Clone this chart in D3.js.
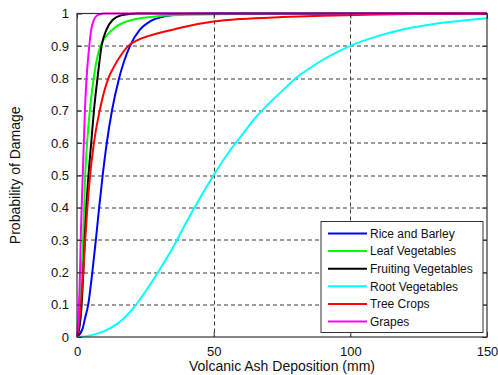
<!DOCTYPE html>
<html>
<head>
<meta charset="utf-8">
<script src="https://cdn.jsdelivr.net/npm/d3@7"></script>
<style>
  html, body { margin: 0; padding: 0; background: #fff; }
  svg { display: block; font-family: "Liberation Sans", Arial, sans-serif; }
</style>
</head>
<body>
<svg id="chart" width="498" height="375"></svg>
<script>
// ---- data ----
const seriesNames = ["Rice and Barley", "Leaf Vegetables", "Fruiting Vegetables", "Root Vegetables", "Tree Crops", "Grapes"];
const seriesColors = ["#0000ff", "#00ff00", "#000000", "#00ffff", "#ff0000", "#ff00ff"];

const riceBarley = [[0,0],[2,0.025],[3,0.06],[4.1,0.1],[5.6,0.2],[6.9,0.3],[8.1,0.4],[9.4,0.5],[10.9,0.6],[12.8,0.7],[15.4,0.8],[19.4,0.9],[23,0.95],[27,0.977],[31.5,0.99],[36,0.996],[42,0.999],[50,1],[150,1]];
const leafVegetables = [[0,0],[0.8,0.05],[1.2,0.1],[1.7,0.2],[2.2,0.3],[2.6,0.4],[3.0,0.5],[3.7,0.6],[4.7,0.7],[6.1,0.8],[8.6,0.9],[13,0.95],[20,0.98],[28,0.99],[40,0.996],[60,0.999],[80,1],[150,1]];
const fruitingVegetables = [[0,0],[1.2,0.05],[1.7,0.1],[2.3,0.2],[2.8,0.3],[3.4,0.4],[4.2,0.5],[5.2,0.6],[6.2,0.7],[7.5,0.8],[9.0,0.9],[10.8,0.95],[13,0.98],[16.5,0.995],[22,1],[150,1]];
const rootVegetables = [[0,0],[5,0.005],[10,0.018],[15,0.042],[20,0.083],[25,0.14],[30,0.205],[35,0.275],[40,0.355],[45,0.43],[50,0.5],[55,0.565],[60,0.62],[65,0.675],[70,0.72],[75,0.76],[80,0.8],[85,0.83],[90,0.857],[95,0.88],[100,0.9],[110,0.93],[120,0.952],[130,0.967],[140,0.977],[150,0.985]];
const treeCrops = [[0,0],[0.8,0.05],[1.4,0.1],[2.3,0.2],[3.0,0.3],[3.8,0.4],[4.8,0.5],[6.2,0.6],[8.3,0.7],[11.5,0.8],[13.5,0.835],[16,0.87],[18.8,0.9],[22,0.917],[26,0.93],[30,0.94],[35,0.95],[40,0.96],[50,0.975],[60,0.983],[75,0.989],[90,0.993],[110,0.997],[130,0.999],[150,1]];
const grapes = [[0,0],[0.7,0.1],[1.1,0.2],[1.35,0.3],[1.7,0.4],[2.1,0.5],[2.5,0.6],[2.9,0.7],[3.5,0.8],[4.5,0.9],[5.2,0.95],[6.2,0.98],[7.5,0.995],[10,1],[150,1]];

const seriesData = [riceBarley, leafVegetables, fruitingVegetables, rootVegetables, treeCrops, grapes];

const xTicks = [0, 50, 100, 150];
const yTicks = [0, 0.1, 0.2, 0.3, 0.4, 0.5, 0.6, 0.7, 0.8, 0.9, 1];
const yTickLabels = ["0", "0.1", "0.2", "0.3", "0.4", "0.5", "0.6", "0.7", "0.8", "0.9", "1"];
const xLabel = "Volcanic Ash Deposition (mm)";
const yLabel = "Probability of Damage";

// ---- layout ----
const margin = { left: 77, right: 11, top: 13.5, bottom: 38 };
const W = 498, H = 375;
const pw = W - margin.left - margin.right;
const ph = H - margin.top - margin.bottom;

const svg = d3.select("#chart");
const g = svg.append("g").attr("transform", `translate(${margin.left},${margin.top})`);

const x = d3.scaleLinear().domain([0, 150]).range([0, pw]);
const y = d3.scaleLinear().domain([0, 1]).range([ph, 0]);

g.append("rect").attr("width", pw).attr("height", ph).attr("fill", "#fff");

// grid (dashed)
const grid = g.append("g").attr("stroke", "#3a3a3a").attr("stroke-width", 1).attr("stroke-dasharray", "4,3");
grid.selectAll("line.gx").data(xTicks.slice(1, -1)).enter().append("line")
  .attr("x1", d => Math.round(x(d)) + 0.5).attr("x2", d => Math.round(x(d)) + 0.5)
  .attr("y1", 0).attr("y2", ph);
grid.selectAll("line.gy").data(yTicks.slice(1, -1)).enter().append("line")
  .attr("y1", d => Math.round(y(d)) + 0.5).attr("y2", d => Math.round(y(d)) + 0.5)
  .attr("x1", 0).attr("x2", pw);

// curves
svg.append("defs").append("clipPath").attr("id", "clip")
  .append("rect").attr("x", -1).attr("y", -2).attr("width", pw + 2).attr("height", ph + 3);

const line = d3.line().x(d => x(d[0])).y(d => y(d[1])).curve(d3.curveMonotoneX);
const curves = g.append("g").attr("clip-path", "url(#clip)");
seriesData.forEach((s, i) => {
  curves.append("path").datum(s)
    .attr("fill", "none")
    .attr("stroke", seriesColors[i])
    .attr("stroke-width", 2)
    .attr("stroke-linejoin", "round")
    .attr("d", line);
});

// axes (ticks inside, MATLAB style)
const tickLen = 5;
const xAxisB = d3.axisBottom(x).tickValues(xTicks).tickSize(-tickLen).tickPadding(10).tickFormat(d3.format("d"));
const xAxisT = d3.axisTop(x).tickValues(xTicks).tickSize(-tickLen).tickFormat("");
const yAxisL = d3.axisLeft(y).tickValues(yTicks).tickSize(-tickLen).tickPadding(8).tickFormat((d, i) => yTickLabels[i]);
const yAxisR = d3.axisRight(y).tickValues(yTicks).tickSize(-tickLen).tickFormat("");

function styleAxis(sel) {
  sel.select(".domain").remove();
  sel.selectAll(".tick line").attr("stroke", "#333");
  sel.selectAll("text").attr("fill", "#111").attr("font-size", 13)
    .attr("font-family", "'Liberation Sans', Arial, sans-serif");
}
g.append("g").attr("transform", `translate(0,${ph})`).call(xAxisB).call(styleAxis);
g.append("g").call(xAxisT).call(styleAxis);
g.append("g").call(yAxisL).call(styleAxis);
g.append("g").attr("transform", `translate(${pw},0)`).call(yAxisR).call(styleAxis);

// box
g.append("rect").attr("x", 0).attr("y", 0).attr("width", pw).attr("height", ph)
  .attr("fill", "none").attr("stroke", "#333").attr("stroke-width", 1.2);

// axis labels
svg.append("text").attr("x", margin.left + pw / 2).attr("y", 371)
  .attr("text-anchor", "middle").attr("font-size", 14).attr("fill", "#111").text(xLabel);
svg.append("text").attr("transform", `translate(20,${margin.top + ph / 2}) rotate(-90)`)
  .attr("text-anchor", "middle").attr("font-size", 14).attr("fill", "#111").text(yLabel);

// legend
const lg = svg.append("g").attr("transform", "translate(321,221.5)");
lg.append("rect").attr("width", 162).attr("height", 111)
  .attr("fill", "#fff").attr("stroke", "#333").attr("stroke-width", 1);
seriesNames.forEach((name, i) => {
  const yy = 12 + i * 17.6;
  lg.append("line").attr("x1", 7).attr("x2", 46).attr("y1", yy).attr("y2", yy)
    .attr("stroke", seriesColors[i]).attr("stroke-width", 2);
  lg.append("text").attr("x", 49).attr("y", yy + 4.3).attr("font-size", 12).attr("fill", "#111").text(name);
});
</script>
</body>
</html>
